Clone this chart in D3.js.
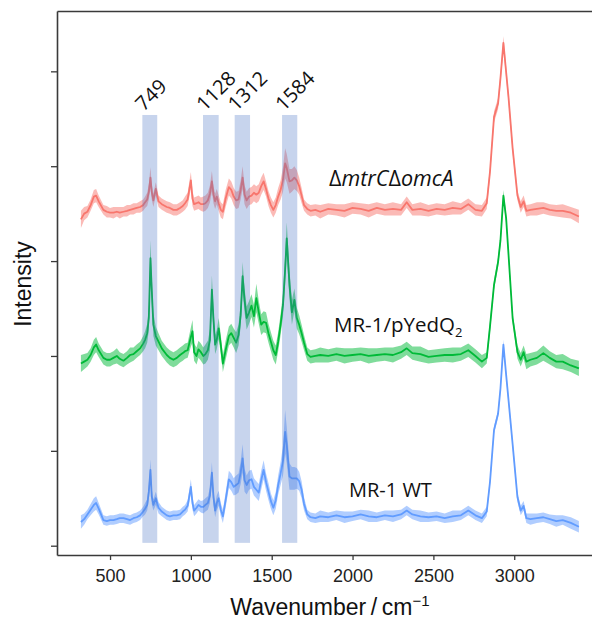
<!DOCTYPE html>
<html>
<head>
<meta charset="utf-8">
<script src="https://cdn.jsdelivr.net/npm/d3@7"></script>
<style>
  body { margin: 0; background: #fff; }
  svg { display: block; }
</style>
</head>
<body>
<svg id="chart" width="592" height="619"></svg>
<script>
// Raman shift grid (cm^-1), shared by all three averaged spectra
const wavenumber = [
  320,340,360,380,400,414,430,459,480,500,
  521,542,560,583,605,624,645,665,686,705,
  717,730,740,750,758,768,783,800,820,851,
  870,892,913,933,950,964,980,1000,1010,1020,
  1035,1047,1062,1077,1090,1105,1118,1130,1140,1150,
  1160,1172,1185,1198,1215,1235,1250,1265,1280,1295,
  1308,1320,1332,1345,1360,1375,1390,1405,1420,1435,
  1450,1465,1480,1495,1510,1525,1540,1555,1570,1583,
  1593,1610,1625,1640,1655,1670,1685,1700,1720,1740,
  1770,1800,1850,1900,1950,2000,2050,2100,2150,2200,
  2250,2300,2335,2370,2420,2470,2520,2570,2620,2670,
  2716,2760,2800,2830,2850,2875,2900,2915,2933,2950,
  2965,2990,3020,3040,3058,3075,3100,3140,3180,3220,
  3260,3300,3350,3400
];

// Mean intensity (a.u., stacked with offsets) — ΔmtrCΔomcA
const meanMutant = [
  344,350,352,359,368,369,363,354,352,351,
  351,352,351,352,353,354,355,356,357,359,
  362,365,373,388,373,364,376,363,360,357,
  356,354,354,356,358,361,365,385,366,360,
  361,362,360,360,361,364,371,384,370,363,
  368,361,354,352,366,378,375,368,364,365,
  375,388,370,364,368,369,372,370,372,379,
  384,376,366,359,354,359,368,375,386,403,
  398,384,385,388,385,379,369,359,355,353,
  354,352,355,354,353,356,355,353,356,354,
  355,354,362,354,355,353,355,354,356,355,
  360,354,353,361,394,452,466,493,530,499,
  472,419,369,357,363,353,354,355,356,354,
  353,353,351,347
];
const sdMutant = [
  9,7,6,6,7,7,6,5,6,5,
  6,5,6,5,6,5,6,5,6,6,
  6,7,8,11,8,7,7,6,6,6,
  6,6,6,6,6,7,7,9,8,7,
  7,7,7,8,8,8,9,11,9,8,
  8,8,8,8,9,9,9,9,9,9,
  10,12,10,9,9,9,9,9,9,9,
  9,8,8,8,8,8,9,10,13,16,
  15,13,12,12,11,9,8,6,6,6,
  6,7,6,6,7,6,6,7,6,6,
  7,6,6,6,7,6,6,6,7,6,
  6,6,6,6,5,6,6,6,7,6,
  5,5,5,6,6,6,6,7,6,6,
  6,7,6,7
];

// MR-1/pYedQ2
const meanYedQ = [
  192,194,196,201,209,212,206,198,196,196,
  198,200,197,195,198,201,202,205,208,213,
  217,224,240,303,270,233,221,215,208,201,
  198,196,198,201,203,205,206,220,226,204,
  200,207,204,200,202,206,217,270,238,212,
  217,229,212,192,206,221,224,219,214,222,
  243,284,259,240,246,253,242,261,246,233,
  236,235,224,215,206,201,215,233,254,291,
  324,275,246,259,240,233,224,214,202,199,
  200,201,200,202,200,201,202,200,201,202,
  201,204,208,203,202,199,200,201,201,202,
  206,200,194,198,231,275,299,322,369,345,
  306,240,204,196,204,194,196,198,203,198,
  194,194,190,187
];
const sdYedQ = [
  9,8,7,7,8,8,7,7,7,7,
  7,8,7,7,7,8,7,7,7,8,
  9,10,13,19,15,12,10,9,8,8,
  8,8,8,8,8,8,8,10,12,9,
  9,9,9,9,10,10,11,15,12,10,
  10,11,10,9,10,10,10,10,11,11,
  12,15,13,12,12,12,12,15,12,11,
  11,11,10,10,10,10,10,11,12,15,
  17,15,13,12,11,10,9,8,7,7,
  7,8,7,7,8,7,7,8,7,7,
  8,7,7,7,8,7,7,7,8,7,
  7,7,7,6,6,5,5,5,6,5,
  4,5,7,7,7,8,7,7,8,7,
  7,8,7,8
];

// MR-1 WT
const meanWT = [
  25,28,33,38,43,45,39,27,26,27,
  27,28,29,29,28,27,29,30,32,36,
  39,43,57,80,52,43,50,40,36,32,
  31,32,32,33,36,38,42,62,45,37,
  40,43,41,41,43,45,53,77,51,37,
  45,50,38,31,48,70,67,62,64,66,
  77,92,69,64,69,70,62,59,56,69,
  80,67,57,47,40,48,64,76,90,120,
  106,73,71,71,71,68,59,44,33,30,
  29,31,30,32,30,31,33,31,30,32,
  31,33,37,33,31,30,31,29,31,32,
  37,32,29,36,67,122,139,166,212,180,
  153,107,51,37,42,29,28,29,30,28,
  26,27,24,20
];
const sdWT = [
  7,6,5,6,7,7,6,5,5,5,
  5,5,5,5,5,5,5,5,5,5,
  6,6,8,11,8,6,7,6,5,5,
  5,5,5,5,5,5,6,8,7,6,
  6,6,6,7,7,7,8,11,8,7,
  8,8,7,7,8,9,9,9,10,10,
  12,15,12,10,10,10,9,9,9,10,
  10,9,9,8,8,9,10,12,16,23,
  19,14,12,12,11,10,9,7,5,5,
  5,6,5,5,6,5,5,6,5,5,
  6,5,5,5,6,5,5,5,6,5,
  5,5,5,5,4,4,4,4,5,4,
  4,4,5,5,5,5,6,5,5,5,
  6,5,6,6
];

// Highlighted bands (cm^-1) and the peak positions they mark
const peakLabels = [749, 1128, 1312, 1584];
const bandLo = [700, 1075, 1271, 1564];
const bandHi = [792, 1172, 1366, 1658];

const xTicks = [500, 1000, 1500, 2000, 2500, 3000];
const yTicks = [0, 100, 200, 300, 400, 500];

const seriesColors = ["#F8766D", "#00BA38", "#619CFF"];

// ---- layout ----
const svg = d3.select("#chart");
const plotLeft = 57, plotRight = 592, plotTop = 11, plotBottom = 555;

const x = d3.scaleLinear().domain([172, 3481]).range([plotLeft, plotRight]);
const y = d3.scaleLinear().domain([-9.8, 563.6]).range([plotBottom, plotTop]);

const series = [
  { mean: meanMutant, sd: sdMutant, color: seriesColors[0] },
  { mean: meanYedQ,   sd: sdYedQ,   color: seriesColors[1] },
  { mean: meanWT,     sd: sdWT,     color: seriesColors[2] }
];

const ribbon = d3.area()
  .x((d, i) => x(wavenumber[i]))
  .y0(d => y(d[0] - d[1]))
  .y1(d => y(d[0] + d[1]));
const line = d3.line()
  .x((d, i) => x(wavenumber[i]))
  .y(d => y(d[0]));

const traces = svg.append("g");
series.forEach(s => {
  const pts = s.mean.map((m, i) => [m, s.sd[i]]);
  traces.append("path")
    .attr("d", ribbon(pts))
    .attr("fill", s.color)
    .attr("fill-opacity", 0.5);
  traces.append("path")
    .attr("d", line(pts))
    .attr("fill", "none")
    .attr("stroke", s.color)
    .attr("stroke-width", 1.8)
    .attr("stroke-linejoin", "round");
});

// translucent highlight bands over the spectra
const bandTop = y(454), bandBottom = y(3);
svg.append("g").selectAll("rect")
  .data(peakLabels)
  .join("rect")
  .attr("x", (d, i) => x(bandLo[i]))
  .attr("width", (d, i) => x(bandHi[i]) - x(bandLo[i]))
  .attr("y", bandTop)
  .attr("height", bandBottom - bandTop)
  .attr("fill", "rgb(68,114,196)")
  .attr("fill-opacity", 0.3);

const labelFont = "'Open Sans', sans-serif";
svg.append("g").selectAll("text")
  .data(peakLabels)
  .join("text")
  .attr("transform", (d, i) => {
    const cx = x((bandLo[i] + bandHi[i]) / 2);
    return `translate(${cx - 6},${bandTop - 3}) rotate(-45)`;
  })
  .attr("font-family", labelFont)
  .attr("font-size", 20)
  .attr("fill", "#111")
  .text(d => d);

// ---- axes ----
const axisColor = "#3a3a3a";
const gx = svg.append("g")
  .attr("transform", `translate(0,${plotBottom})`)
  .call(d3.axisBottom(x).tickValues(xTicks).tickFormat(d3.format("d"))
    .tickSize(5).tickPadding(9).tickSizeOuter(0));
const gy = svg.append("g")
  .attr("transform", `translate(${plotLeft},0)`)
  .call(d3.axisLeft(y).tickValues(yTicks).tickSize(6).tickFormat("").tickSizeOuter(0));
const gt = svg.append("g")
  .attr("transform", `translate(0,${plotTop})`)
  .call(d3.axisTop(x).tickValues([]).tickSizeOuter(0));

[gx, gy, gt].forEach(g => {
  g.select(".domain").attr("stroke", axisColor).attr("stroke-width", 1.6);
  g.selectAll(".tick line").attr("stroke", axisColor).attr("stroke-width", 1.3);
});
gx.selectAll(".tick text")
  .attr("font-family", "'Liberation Sans', Arial, sans-serif")
  .attr("font-size", 18)
  .attr("fill", "#222");

// axis titles
const xt = svg.append("text")
  .attr("x", 330).attr("y", 615)
  .attr("text-anchor", "middle")
  .attr("font-family", "'Liberation Sans', Arial, sans-serif")
  .attr("font-size", 23)
  .attr("fill", "#111");
xt.append("tspan").text("Wavenumber\u2009/\u2009cm");
xt.append("tspan").attr("font-size", 15).attr("dy", -9).text("\u22121");

svg.append("text")
  .attr("transform", "translate(31,284) rotate(-90)")
  .attr("text-anchor", "middle")
  .attr("font-family", "'Liberation Sans', Arial, sans-serif")
  .attr("font-size", 23)
  .attr("fill", "#111")
  .text("Intensity");

// series names
const t1 = svg.append("text").attr("x", 329).attr("y", 186)
  .attr("font-family", labelFont).attr("font-size", 21.5).attr("fill", "#111");
t1.append("tspan").text("\u0394");
t1.append("tspan").attr("font-style", "italic").text("mtrC");
t1.append("tspan").text("\u0394");
t1.append("tspan").attr("font-style", "italic").text("omcA");

const t2 = svg.append("text").attr("x", 334).attr("y", 332)
  .attr("font-family", labelFont).attr("font-size", 20.5).attr("fill", "#111");
t2.append("tspan").text("MR-1/pYedQ");
t2.append("tspan").attr("font-size", 13).attr("dy", 5).text("2");

svg.append("text").attr("x", 349).attr("y", 497)
  .attr("font-family", labelFont).attr("font-size", 20).attr("fill", "#111")
  .text("MR-1 WT");
</script>
</body>
</html>
